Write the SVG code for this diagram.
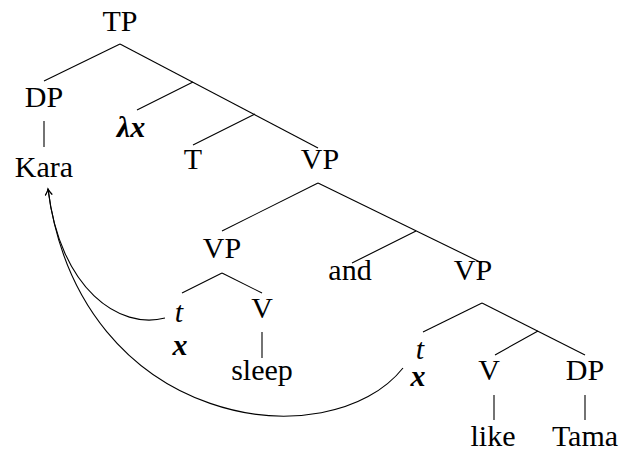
<svg xmlns="http://www.w3.org/2000/svg" width="621" height="453" viewBox="0 0 621 453">
<defs>
<style>
text{font-family:"Liberation Serif","Times New Roman",serif;font-size:30px;fill:#000;text-anchor:middle}
.bi{font-weight:bold;font-style:italic}
.it{font-style:italic}
.e{stroke:#000;stroke-width:1.1;fill:none}
</style>
<marker id="ah" viewBox="0 0 10 10" refX="8" refY="5" markerWidth="10" markerHeight="10" markerUnits="userSpaceOnUse" orient="auto">
<path d="M2,1.5 Q5,4 8,5 Q5,6 2,8.5" fill="none" stroke="#000" stroke-width="1"/>
</marker>
</defs>
<rect width="621" height="453" fill="#fff"/>
<g id="edges" class="e">
<line x1="120" y1="44" x2="44" y2="81"/>
<line x1="120" y1="44" x2="318" y2="148"/>
<line x1="193" y1="82" x2="137" y2="110"/>
<line x1="255" y1="114" x2="193" y2="145"/>
<line x1="44" y1="121" x2="44" y2="147"/>
<line x1="318" y1="183" x2="222" y2="231"/>
<line x1="318" y1="183" x2="482" y2="263"/>
<line x1="416" y1="231" x2="352" y2="263"/>
<line x1="222" y1="273" x2="182" y2="293"/>
<line x1="222" y1="273" x2="262" y2="293"/>
<line x1="262" y1="332" x2="262" y2="358"/>
<line x1="482" y1="303" x2="423" y2="332"/>
<line x1="482" y1="303" x2="585" y2="355"/>
<line x1="538" y1="331" x2="495" y2="355"/>
<line x1="494" y1="395" x2="494" y2="420"/>
<line x1="585" y1="395" x2="585" y2="420"/>
<path d="M165,318 C120,330 60,290 48,189" marker-end="url(#ah)"/>
<path d="M403,368 C330,460 80,430 48,189" marker-end="url(#ah)"/>
</g>
<g id="TP"><text x="120" y="31">TP</text></g>
<g id="DP1"><text x="44" y="107">DP</text></g>
<g id="Kara"><text x="44" y="177">Kara</text></g>
<g id="lambdax"><text x="131" y="137" class="bi">λx</text></g>
<g id="T"><text x="193" y="169">T</text></g>
<g id="VP1"><text x="320" y="169">VP</text></g>
<g id="VP2"><text x="222" y="258">VP</text></g>
<g id="and"><text x="350" y="280">and</text></g>
<g id="VP3"><text x="473" y="280">VP</text></g>
<g id="t1"><text><tspan x="179" y="322" class="it">t</tspan><tspan x="180" y="355" class="bi">x</tspan></text></g>
<g id="V1"><text x="262" y="318">V</text></g>
<g id="sleep"><text x="262" y="380">sleep</text></g>
<g id="t2"><text><tspan x="420" y="359" class="it">t</tspan><tspan x="418" y="386" class="bi">x</tspan></text></g>
<g id="V2"><text x="489" y="380">V</text></g>
<g id="DP2"><text x="585" y="380">DP</text></g>
<g id="like"><text x="493" y="446">like</text></g>
<g id="Tama"><text x="585" y="446">Tama</text></g>
</svg>
